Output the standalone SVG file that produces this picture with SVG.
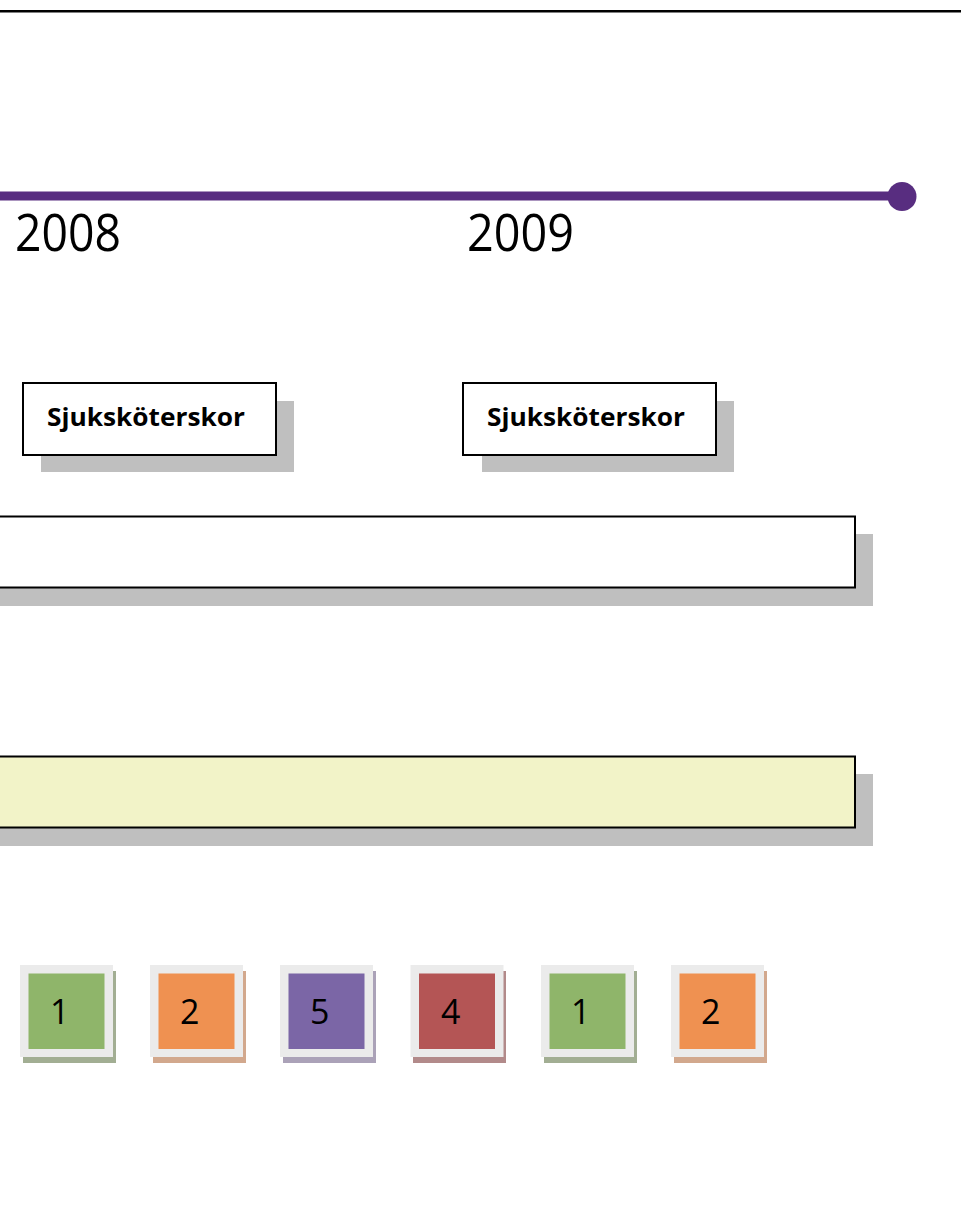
<svg xmlns="http://www.w3.org/2000/svg" width="961" height="1207" viewBox="0 0 961 1207">
  <style>
    .year { font-family: "Open Sans", "Liberation Sans", sans-serif; font-size: 51px; fill: #000; }
    .lbl { font-family: "Open Sans", "Liberation Sans", sans-serif; font-size: 25px; font-weight: bold; fill: #000; }
    .num { font-family: "Open Sans", "Liberation Sans", sans-serif; font-size: 34px; fill: #000; }
    .box { stroke: #000; stroke-width: 2; }
    .shadow { fill: #BFBFBF; }
    .frame { fill: #EBEBEB; }
  </style>
  <rect width="961" height="1207" fill="#fff"/>
  <g id="top-rule">
    <line x1="0" y1="11.2" x2="961" y2="11.2" stroke="#000" stroke-width="2.4"/>
  </g>
  <g id="timeline">
    <line x1="0" y1="196" x2="902" y2="196" stroke="#582D80" stroke-width="9"/>
    <circle cx="902" cy="196.5" r="14.5" fill="#582D80"/>
  </g>
  <g id="year-2008">
    <text class="year" x="15" y="251" textLength="106" lengthAdjust="spacingAndGlyphs">2008</text>
  </g>
  <g id="year-2009">
    <text class="year" x="467" y="251" textLength="107" lengthAdjust="spacingAndGlyphs">2009</text>
  </g>
  <g id="nurses-2008">
    <rect class="shadow" x="41" y="401" width="253" height="71"/>
    <rect class="box" x="23" y="383" width="253" height="72" fill="#fff"/>
    <text class="lbl" x="47" y="426" textLength="198" lengthAdjust="spacingAndGlyphs">Sjuksköterskor</text>
  </g>
  <g id="nurses-2009">
    <rect class="shadow" x="482" y="401" width="252" height="71"/>
    <rect class="box" x="463" y="383" width="253" height="72" fill="#fff"/>
    <text class="lbl" x="487" y="426" textLength="198" lengthAdjust="spacingAndGlyphs">Sjuksköterskor</text>
  </g>
  <g id="white-bar">
    <rect class="shadow" x="-10" y="534" width="883" height="72"/>
    <rect class="box" x="-10" y="516.5" width="865" height="71" fill="#fff"/>
  </g>
  <g id="yellow-bar">
    <rect class="shadow" x="-10" y="774" width="883" height="72"/>
    <rect class="box" x="-10" y="756.5" width="865" height="71" fill="#F2F3C8"/>
  </g>
  <g id="sq1">
    <rect x="23" y="971" width="93" height="92" fill="#A2AE93"/>
    <rect class="frame" x="20" y="965" width="93" height="92"/>
    <rect x="28.5" y="973.5" width="76" height="75.5" fill="#8FB56A"/>
    <text class="num" x="50" y="1024">1</text>
  </g>
  <g id="sq2">
    <rect x="153" y="971" width="93" height="92" fill="#D2A88D"/>
    <rect class="frame" x="150" y="965" width="93" height="92"/>
    <rect x="158.5" y="973.5" width="76" height="75.5" fill="#EF9151"/>
    <text class="num" x="180" y="1024">2</text>
  </g>
  <g id="sq3">
    <rect x="283" y="971" width="93" height="92" fill="#ABA2B8"/>
    <rect class="frame" x="280" y="965" width="93" height="92"/>
    <rect x="288.5" y="973.5" width="76" height="75.5" fill="#7B66A6"/>
    <text class="num" x="310" y="1024">5</text>
  </g>
  <g id="sq4">
    <rect x="413" y="971" width="93" height="92" fill="#B28A8A"/>
    <rect class="frame" x="410.5" y="965" width="93" height="92"/>
    <rect x="419" y="973.5" width="76" height="75.5" fill="#B45555"/>
    <text class="num" x="441" y="1024">4</text>
  </g>
  <g id="sq5">
    <rect x="544" y="971" width="93" height="92" fill="#A2AE93"/>
    <rect class="frame" x="541" y="965" width="93" height="92"/>
    <rect x="549.5" y="973.5" width="76" height="75.5" fill="#8FB56A"/>
    <text class="num" x="571" y="1024">1</text>
  </g>
  <g id="sq6">
    <rect x="674" y="971" width="93" height="92" fill="#D2A88D"/>
    <rect class="frame" x="671" y="965" width="93" height="92"/>
    <rect x="679.5" y="973.5" width="76" height="75.5" fill="#EF9151"/>
    <text class="num" x="701" y="1024">2</text>
  </g>
</svg>
